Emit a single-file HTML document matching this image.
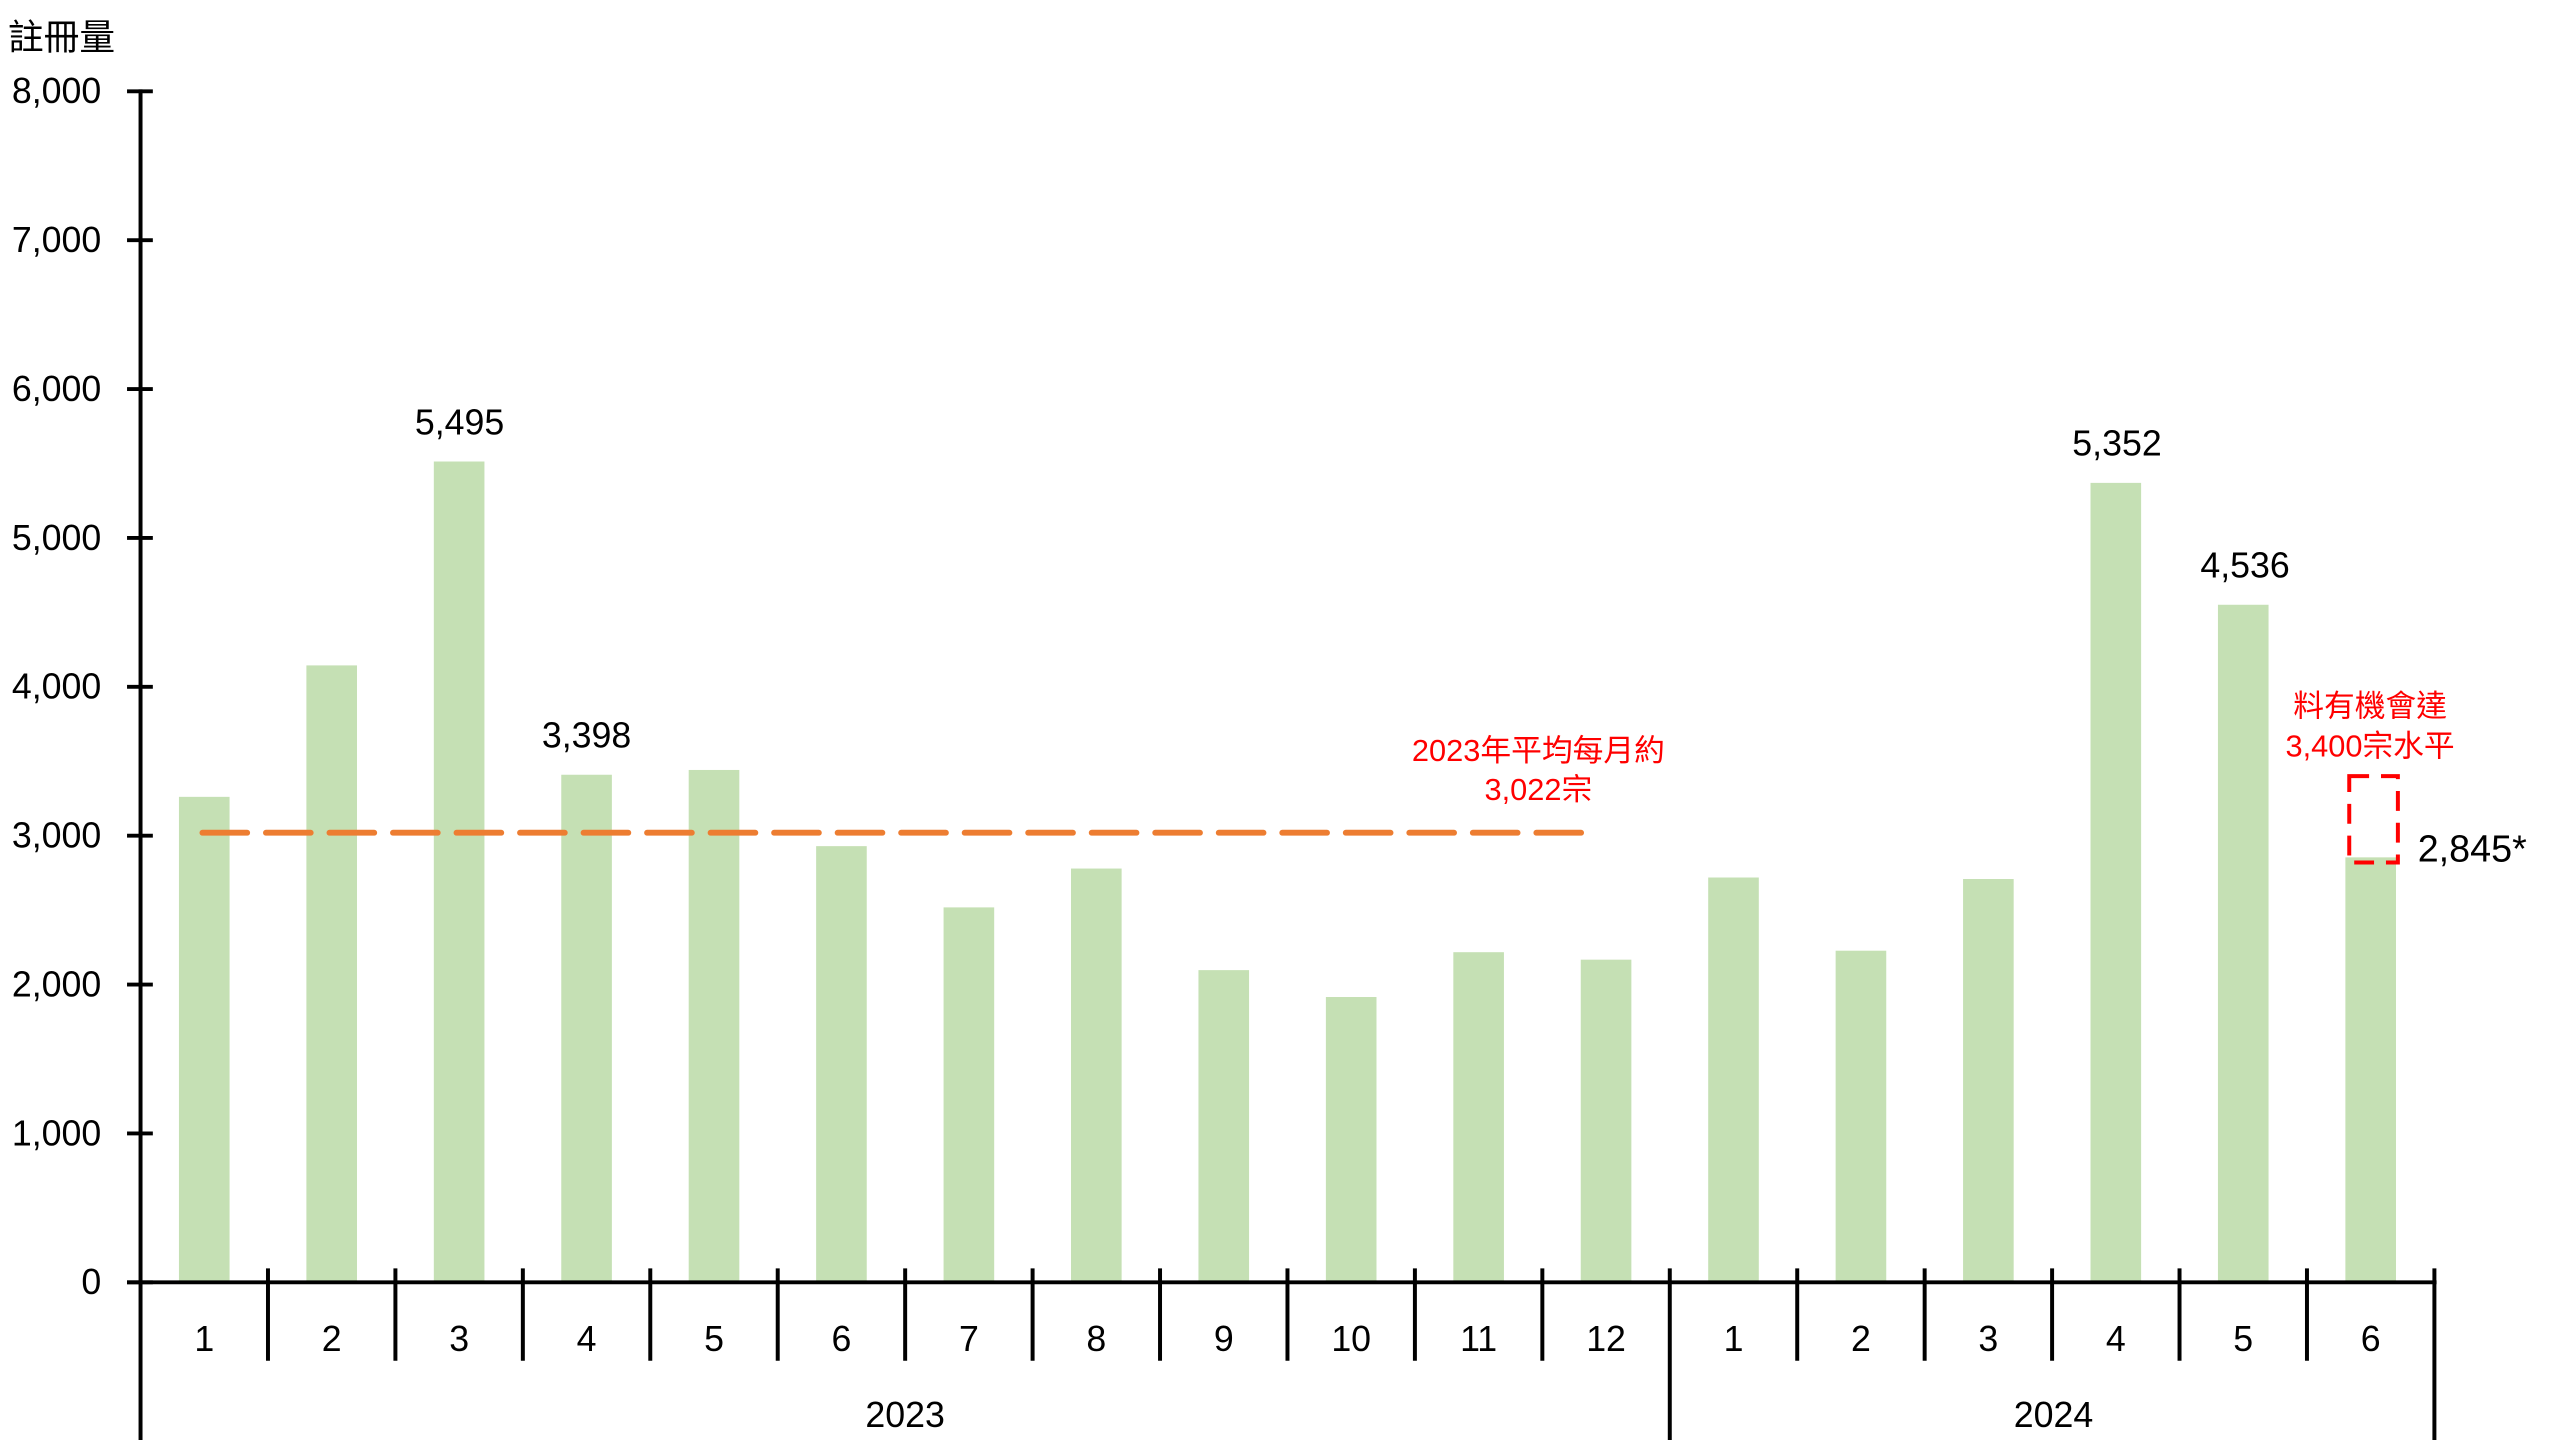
<!DOCTYPE html>
<html><head><meta charset="utf-8"><style>
html,body{margin:0;padding:0;background:#fff;}
svg{display:block;}
text{font-family:"Liberation Sans","Noto Sans CJK TC",sans-serif;}
</style></head><body>
<svg width="2560" height="1440" viewBox="0 0 2560 1440" xmlns="http://www.w3.org/2000/svg">
<g transform="scale(0.9925)">
<g id="bars" fill="#C5E0B4"></g>
<g stroke="#000" stroke-width="4" fill="none">
<line x1="141.6" y1="90" x2="141.6" y2="1460"/>
<line x1="128" y1="1292" x2="2455" y2="1292"/>
<g id="ticks"></g>
</g>
<g font-size="36" fill="#000" text-anchor="end" id="ylab"></g>
<text x="8" y="50" font-size="36" fill="#000">註冊量</text>
<g font-size="36" fill="#000" text-anchor="middle" id="xlab"></g>
<text x="912" y="1438" font-size="36" text-anchor="middle">2023</text>
<text x="2069" y="1438" font-size="36" text-anchor="middle">2024</text>
<g font-size="36" fill="#000" text-anchor="middle">
<text x="463" y="438">5,495</text>
<text x="591" y="753">3,398</text>
<text x="2133" y="459">5,352</text>
<text x="2262" y="582">4,536</text>
</g>
<line x1="204" y1="839" x2="1600" y2="839" stroke="#ED7D31" stroke-width="6" stroke-dasharray="45 19" stroke-linecap="round"/>
<g font-size="31" fill="#FF0000" text-anchor="middle">
<text x="1550" y="767">2023年平均每月約</text>
<text x="1550" y="806">3,022宗</text>
<text x="2388" y="722">料有機會達</text>
<text x="2388" y="762">3,400宗水平</text>
</g>
<rect x="2367" y="782" width="49" height="87" fill="none" stroke="#FF0000" stroke-width="4" stroke-dasharray="20 12"/>
<text x="2436" y="868" font-size="38" fill="#000">2,845*</text>
</g>
<script>
var v=[3250,4130,5495,3398,3430,2920,2510,2770,2090,1910,2210,2160,2710,2220,2700,5352,4536,2845];
var ns="http://www.w3.org/2000/svg",x0=141.6,cw=128.4,b=document.getElementById('bars'),t=document.getElementById('ticks'),xl=document.getElementById('xlab'),yl=document.getElementById('ylab');
function el(p,n,a,txt){var e=document.createElementNS(ns,n);for(var k in a)e.setAttribute(k,a[k]);if(txt)e.textContent=txt;p.appendChild(e);}
v.forEach(function(d,i){var c=x0+cw*(i+0.5),h=d*0.1505;
el(b,'rect',{x:c-25.5,y:1292-h,width:51,height:h});
el(xl,'text',{x:c,y:1361},String(i<12?i+1:i-11));
var tx=x0+cw*(i+1);var long=(i==11||i==17);
el(t,'line',{x1:tx,y1:1278,x2:tx,y2:long?1460:1371});});
for(var k=0;k<=8;k++){var y=1292-k*150;
el(t,'line',{x1:128,y1:y,x2:154,y2:y});
el(yl,'text',{x:102,y:y+12},k==0?'0':k+',000');}
</script>
</svg>
</body></html>
